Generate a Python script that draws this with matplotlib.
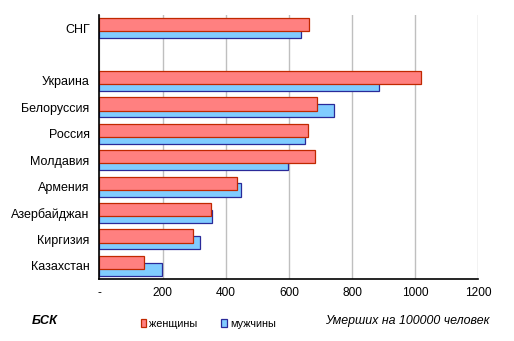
import numpy as np
import matplotlib.pyplot as plt
from matplotlib.patches import Patch

plt.rcParams['font.family'] = ['Liberation Sans', 'DejaVu Sans']

# Mortality per 100000 people by country
countries = ['СНГ', '', 'Украина', 'Белоруссия', 'Россия', 'Молдавия',
             'Армения', 'Азербайджан', 'Киргизия', 'Казахстан']
women = [663, np.nan, 1020, 688, 660, 682, 435, 352, 295, 140]
men = [640, np.nan, 887, 742, 650, 598, 447, 356, 318, 199]
xticks = [0, 200, 400, 600, 800, 1000, 1200]
xtick_labels = ['-', '200', '400', '600', '800', '1000', '1200']

women_face, women_edge = '#FF8080', '#C02800'
men_face, men_edge = '#80CCFF', '#2A2A99'

fig = plt.figure(figsize=(5.14, 3.41), dpi=100)
ax = fig.add_axes([0.1934, 0.182, 0.7372, 0.774])

pos = np.arange(len(countries))
h = 0.5
shift = 0.13
ax.barh(pos + shift, men, height=h, color=men_face, edgecolor=men_edge,
        linewidth=0.9, zorder=2)
ax.barh(pos - shift, women, height=h, color=women_face, edgecolor=women_edge,
        linewidth=0.9, zorder=3)

ax.set_ylim(len(countries) - 0.5, -0.5)
ax.set_xlim(0, 1200)
ax.set_yticks(pos)
ax.set_yticklabels(countries, fontsize=9)
ax.set_xticks(xticks)
ax.set_xticklabels(xtick_labels, fontsize=8.6)
ax.tick_params(axis='both', length=0)
ax.tick_params(axis='x', pad=6)
ax.tick_params(axis='y', pad=7)

ax.grid(axis='x', color='#BFBFBF', linewidth=1.0, zorder=0)
ax.set_axisbelow(True)
for s in ['top', 'right']:
    ax.spines[s].set_visible(False)
for s in ['left', 'bottom']:
    ax.spines[s].set_color('black')
    ax.spines[s].set_linewidth(1.2)
    ax.spines[s].set_zorder(4)

fig.text(0.062, 0.05, 'БСК', fontsize=9.2, fontweight='bold', style='italic')
fig.text(0.953, 0.05, 'Умерших на 100000 человек', fontsize=8.9,
         style='italic', ha='right')

handles = [Patch(facecolor=women_face, edgecolor=women_edge, linewidth=0.9),
           Patch(facecolor=men_face, edgecolor=men_edge, linewidth=0.9)]
fig.legend(handles, ['женщины', 'мужчины'], loc='center',
           bbox_to_anchor=(0.405, 0.05), ncol=2, frameon=False, fontsize=7.8,
           handlelength=0.55, handleheight=0.75, handletextpad=0.25,
           columnspacing=2.2)

plt.savefig('out.png', dpi=100)
